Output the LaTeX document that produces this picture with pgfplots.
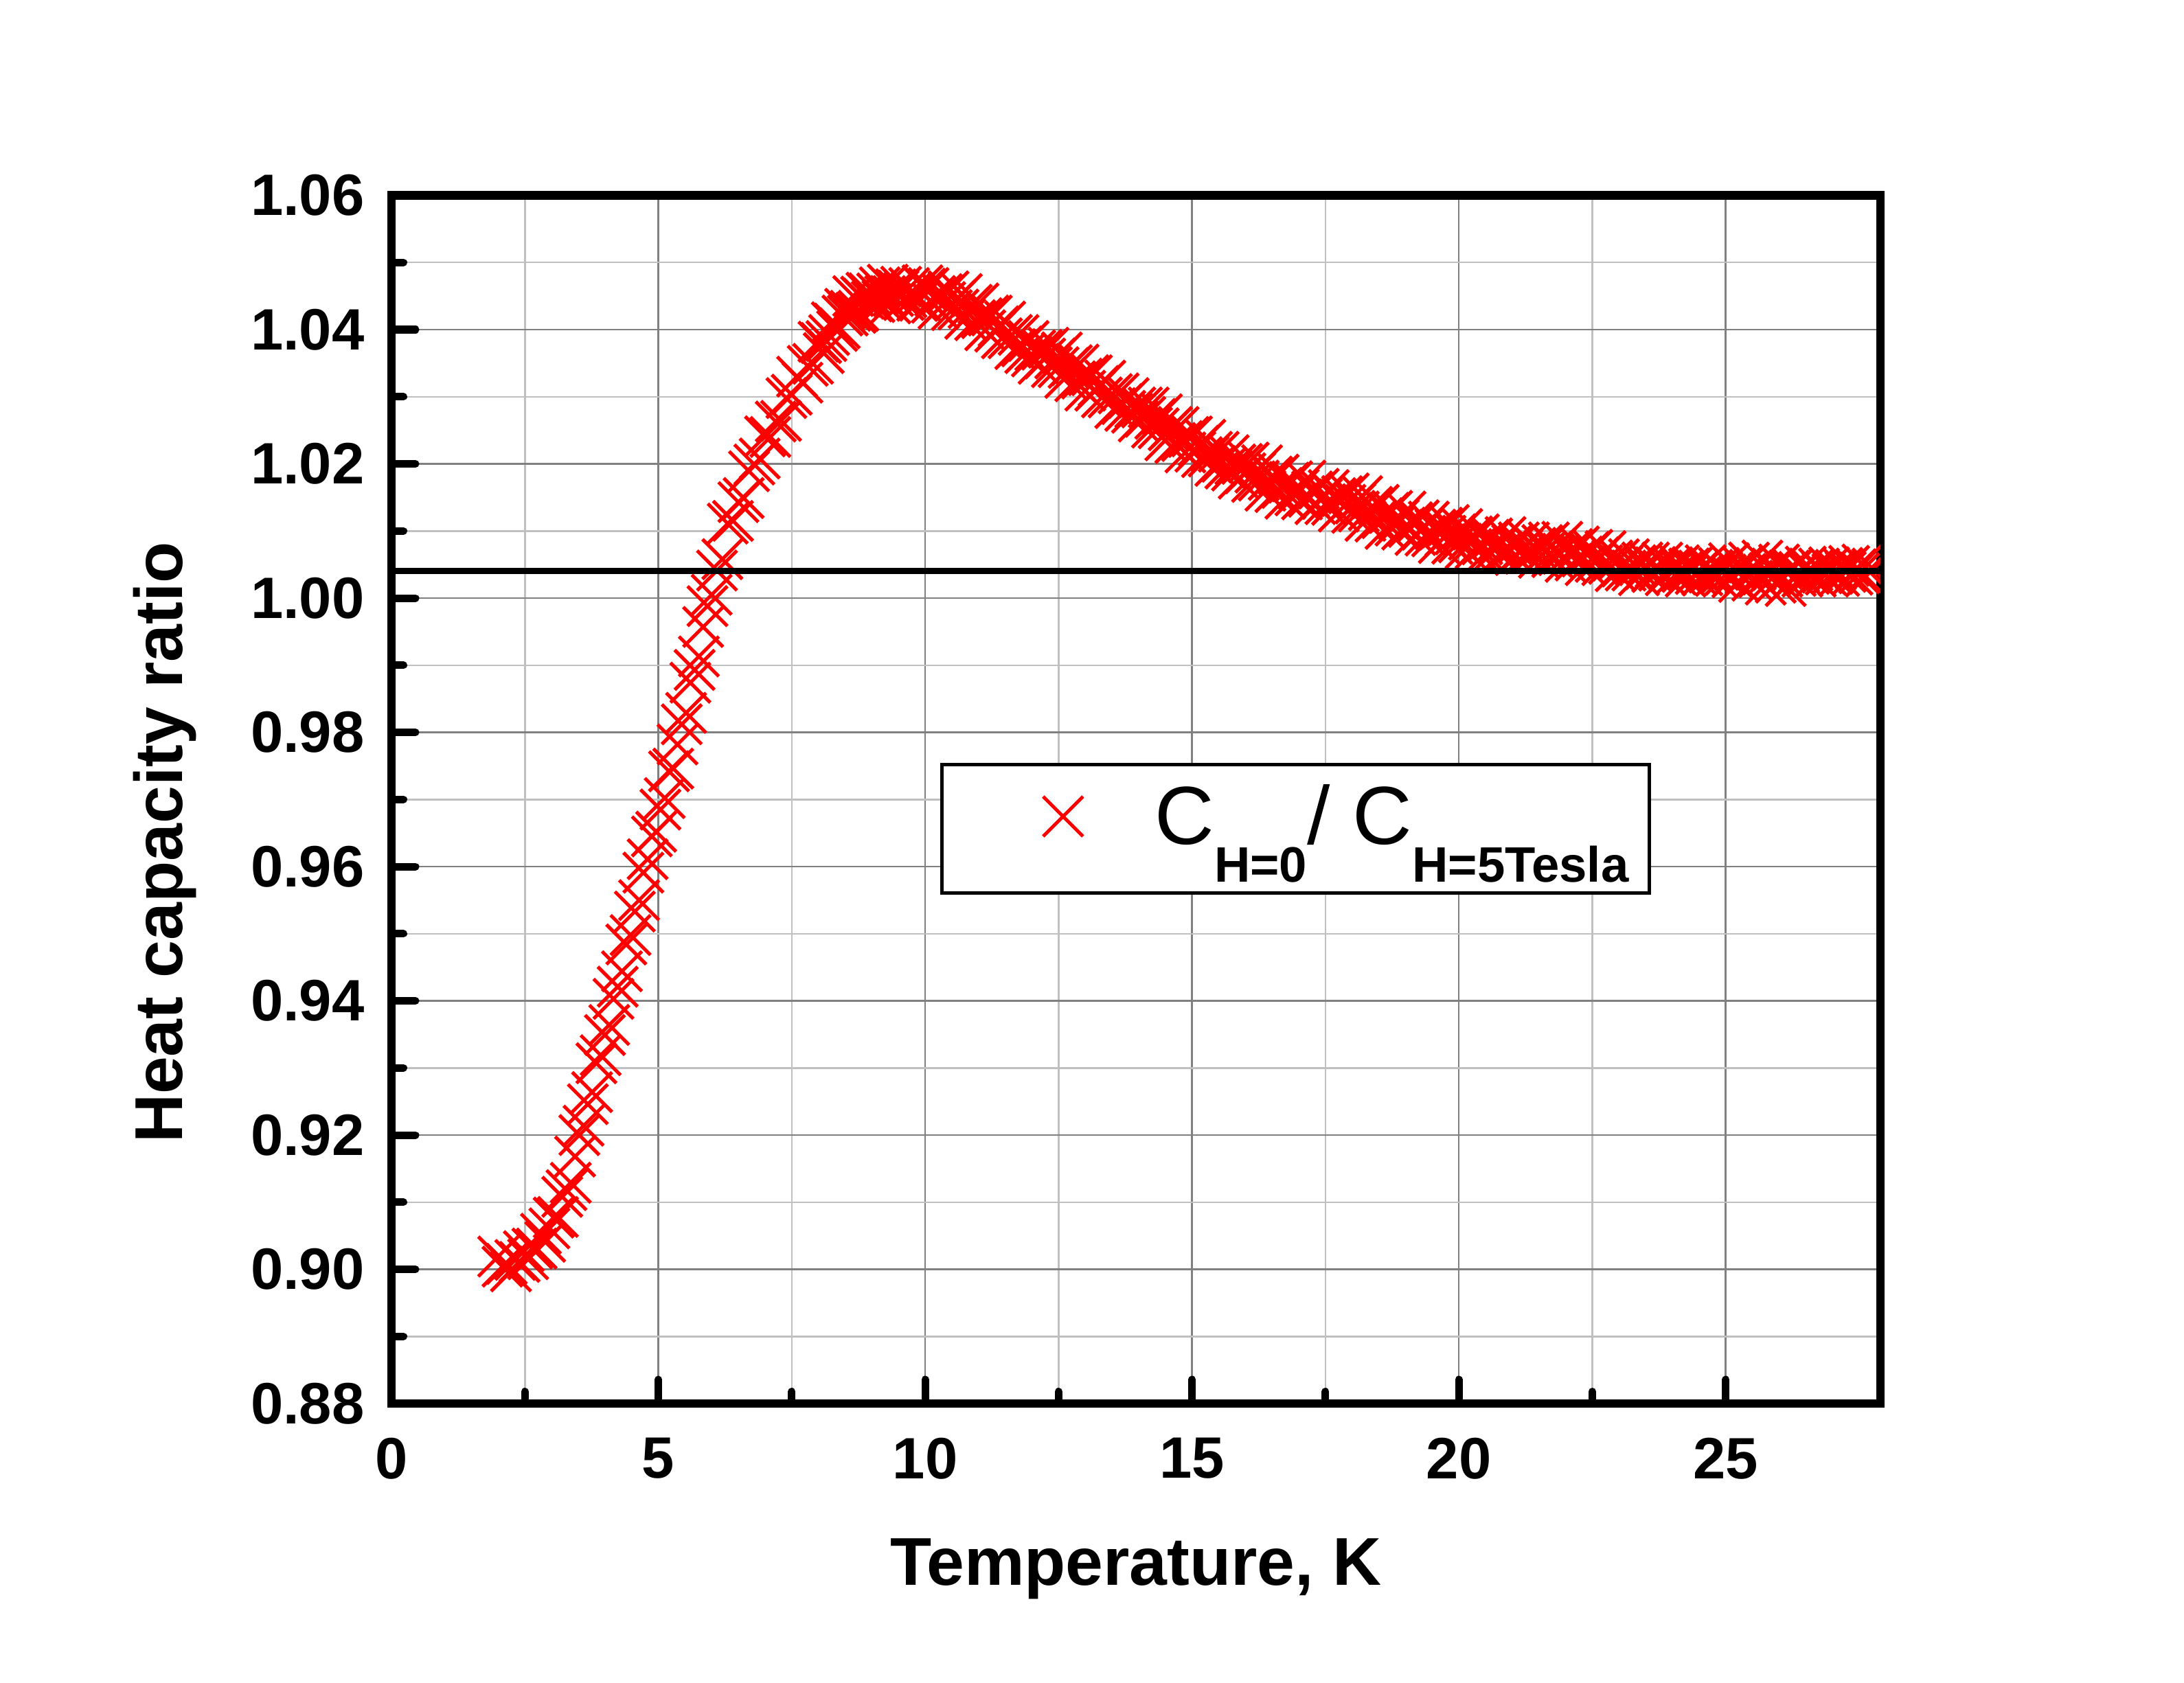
\documentclass[border=0pt]{standalone}
\usepackage{fontspec}
\setmainfont{Liberation Sans}
\usepackage{pgfplots}
\pgfplotsset{compat=1.18}
\definecolor{majgrid}{RGB}{128,128,128}
\definecolor{mingrid}{RGB}{192,192,192}
\begin{document}
\begin{tikzpicture}
\useasboundingbox (-114.0pt,-81.2pt) rectangle (522.0pt,408.8pt);
\begin{axis}[
  scale only axis, width=433.6pt, height=351.9pt,
  at={(0pt,0pt)}, anchor=south west,
  xmin=0, xmax=27.9, ymin=0.88, ymax=1.06,
  xtick={0,5,10,15,20,25},
  ytick={0.88,0.90,0.92,0.94,0.96,0.98,1.00,1.02,1.04,1.06},
  minor x tick num=1, minor y tick num=1,
  grid=both,
  major grid style={draw=majgrid, line width=0.5pt},
  minor grid style={draw=mingrid, line width=0.5pt},
  axis line style={line width=2.5pt, line cap=rect},
  tick align=inside, xtick pos=bottom, ytick pos=left,
  major tick length=7pt, minor tick length=3.5pt,
  tick style={black, line width=2.2pt, line cap=round},
  clip marker paths=true,
  /pgf/number format/assume math mode=true,
  tick label style={font=\fontsize{17}{17}\selectfont\bfseries},
  yticklabel style={/pgf/number format/.cd, fixed, fixed zerofill, precision=2, /tikz/.cd, anchor=east, inner sep=0pt, xshift=-7.7pt},
  xticklabel style={anchor=north, inner sep=0pt, yshift=-9.8pt},
  legend style={at={(0.3685,0.530)}, anchor=north west, draw=black, line width=1pt, fill=white,
    inner xsep=0pt, inner ysep=0pt, cells={anchor=base west},
    nodes={inner sep=0pt, text depth=0pt},
    font=\fontsize{24}{24}\selectfont},
  legend image code/.code={\path[draw=none, fill=none] (0pt,-14.2pt) rectangle (62pt,23.1pt);
    \draw[#1] plot coordinates {(35.3pt,8.1pt)};},
]
\addplot[only marks, mark=x, color=red, line width=1pt, mark size=8.2pt] coordinates {
(2.00,0.9019) (2.08,0.9004) (2.16,0.9008) (2.24,0.8997) (2.32,0.9014) (2.40,0.9011) (2.48,0.9027) (2.56,0.9015)
(2.64,0.9031) (2.72,0.9031) (2.80,0.9053) (2.88,0.9041) (2.96,0.9061) (3.04,0.9077) (3.12,0.9078) (3.20,0.9108)
(3.28,0.9118) (3.36,0.9129) (3.44,0.9168) (3.52,0.9200) (3.60,0.9214) (3.68,0.9246) (3.76,0.9264) (3.84,0.9307)
(3.92,0.9319) (4.00,0.9349) (4.08,0.9364) (4.16,0.9403) (4.24,0.9421) (4.32,0.9444) (4.40,0.9484) (4.48,0.9498)
(4.56,0.9533) (4.64,0.9550) (4.72,0.9591) (4.80,0.9611) (4.88,0.9645) (4.96,0.9652) (5.04,0.9685) (5.12,0.9702)
(5.20,0.9742) (5.28,0.9746) (5.36,0.9782) (5.44,0.9812) (5.52,0.9829) (5.60,0.9874) (5.68,0.9893) (5.76,0.9913)
(5.84,0.9957) (5.92,0.9988) (6.00,1.0005)
(6.10,1.0041) (6.20,1.0058) (6.30,1.0111) (6.40,1.0115) (6.50,1.0143) (6.60,1.0149) (6.70,1.0189) (6.80,1.0199)
(6.90,1.0208) (7.00,1.0241) (7.10,1.0240) (7.20,1.0263) (7.30,1.0264) (7.40,1.0298) (7.50,1.0303) (7.60,1.0330)
(7.70,1.0321) (7.80,1.0346) (7.90,1.0349) (8.00,1.0382) (8.05,1.0380) (8.10,1.0365) (8.15,1.0383) (8.20,1.0392)
(8.25,1.0411) (8.30,1.0409) (8.35,1.0398) (8.40,1.0402) (8.45,1.0421) (8.50,1.0431) (8.55,1.0421) (8.60,1.0428)
(8.65,1.0450) (8.70,1.0425) (8.75,1.0428) (8.80,1.0449) (8.85,1.0446) (8.90,1.0455) (8.95,1.0454) (9.00,1.0442)
(9.05,1.0441) (9.10,1.0454) (9.15,1.0463) (9.20,1.0443) (9.25,1.0450) (9.30,1.0467) (9.35,1.0439) (9.40,1.0450)
(9.45,1.0460) (9.50,1.0458) (9.55,1.0464) (9.60,1.0444) (9.65,1.0448) (9.70,1.0462) (9.75,1.0456) (9.80,1.0451)
(9.85,1.0443) (9.90,1.0444) (9.95,1.0466) (10.00,1.0461)
(10.0625,1.0462) (10.125,1.0440) (10.1875,1.0450) (10.25,1.0431) (10.3125,1.0453) (10.375,1.0441) (10.4375,1.0457) (10.5,1.0429)
(10.5625,1.0443) (10.625,1.0430) (10.6875,1.0453) (10.75,1.0416) (10.8125,1.0432) (10.875,1.0437) (10.9375,1.0414) (11.0,1.0439)
(11.0625,1.0417) (11.125,1.0399) (11.1875,1.0421) (11.25,1.0421) (11.3125,1.0397) (11.375,1.0405) (11.4375,1.0387) (11.5,1.0412)
(11.5625,1.0387) (11.625,1.0392) (11.6875,1.0371) (11.75,1.0392) (11.8125,1.0375) (11.875,1.0365) (11.9375,1.0383) (12.0,1.0360)
(12.0625,1.0369) (12.125,1.0349) (12.1875,1.0370) (12.25,1.0357) (12.3125,1.0373) (12.375,1.0344) (12.4375,1.0357) (12.5,1.0344)
(12.5625,1.0366) (12.625,1.0328) (12.6875,1.0343) (12.75,1.0347) (12.8125,1.0323) (12.875,1.0348) (12.9375,1.0327) (13.0,1.0309)
(13.0625,1.0332) (13.125,1.0332) (13.1875,1.0309) (13.25,1.0316) (13.3125,1.0299) (13.375,1.0324) (13.4375,1.0299) (13.5,1.0304)
(13.5625,1.0283) (13.625,1.0305) (13.6875,1.0289) (13.75,1.0279) (13.8125,1.0298) (13.875,1.0276) (13.9375,1.0284) (14.0,1.0263)
(14.0625,1.0284) (14.125,1.0270) (14.1875,1.0284) (14.25,1.0254) (14.3125,1.0267) (14.375,1.0253) (14.4375,1.0274) (14.5,1.0235)
(14.5625,1.0250) (14.625,1.0255) (14.6875,1.0231) (14.75,1.0255) (14.8125,1.0234) (14.875,1.0217) (14.9375,1.0240) (15.0,1.0241)
(15.0625,1.0218) (15.125,1.0227) (15.1875,1.0210) (15.25,1.0236) (15.3125,1.0211) (15.375,1.0218) (15.4375,1.0197) (15.5,1.0218)
(15.5625,1.0203) (15.625,1.0193) (15.6875,1.0213) (15.75,1.0190) (15.8125,1.0199) (15.875,1.0178) (15.9375,1.0200) (16.0,1.0186)
(16.0625,1.0202) (16.125,1.0173) (16.1875,1.0187) (16.25,1.0175) (16.3125,1.0198) (16.375,1.0160) (16.4375,1.0176) (16.5,1.0181)
(16.5625,1.0158) (16.625,1.0184) (16.6875,1.0164) (16.75,1.0148) (16.8125,1.0172) (16.875,1.0174) (16.9375,1.0153) (17.0,1.0162)
(17.0625,1.0147) (17.125,1.0175) (17.1875,1.0151) (17.25,1.0159) (17.3125,1.0140) (17.375,1.0163) (17.4375,1.0148) (17.5,1.0140)
(17.5625,1.0161) (17.625,1.0139) (17.6875,1.0149) (17.75,1.0129) (17.8125,1.0152) (17.875,1.0139) (17.9375,1.0156) (18.0,1.0127)
(18.0625,1.0141) (18.125,1.0129) (18.1875,1.0152) (18.25,1.0115) (18.3125,1.0131) (18.375,1.0136) (18.4375,1.0114) (18.5,1.0139)
(18.5625,1.0119) (18.625,1.0103) (18.6875,1.0127) (18.75,1.0130) (18.8125,1.0108) (18.875,1.0117) (18.9375,1.0102) (19.0,1.0129)
(19.0625,1.0106) (19.125,1.0113) (19.1875,1.0094) (19.25,1.0116) (19.3125,1.0102) (19.375,1.0093) (19.4375,1.0114) (19.5,1.0092)
(19.5625,1.0102) (19.625,1.0082) (19.6875,1.0105) (19.75,1.0093) (19.8125,1.0109) (19.875,1.0081) (19.9375,1.0095) (20.0,1.0083)
(20.0625,1.0103) (20.125,1.0074) (20.1875,1.0087) (20.25,1.0092) (20.3125,1.0074) (20.375,1.0095) (20.4375,1.0080) (20.5,1.0067)
(20.5625,1.0087) (20.625,1.0089) (20.6875,1.0073) (20.75,1.0081) (20.8125,1.0069) (20.875,1.0091) (20.9375,1.0073) (21.0,1.0079)
(21.0625,1.0064) (21.125,1.0083) (21.1875,1.0072) (21.25,1.0066) (21.3125,1.0083) (21.375,1.0067) (21.4375,1.0075) (21.5,1.0060)
(21.5625,1.0079) (21.625,1.0069) (21.6875,1.0083) (21.75,1.0061) (21.8125,1.0074) (21.875,1.0064) (21.9375,1.0084) (22.0,1.0054)
(22.0625,1.0068) (22.125,1.0073) (22.1875,1.0056) (22.25,1.0077) (22.3125,1.0062) (22.375,1.0049) (22.4375,1.0069) (22.5,1.0072)
(22.5625,1.0054) (22.625,1.0061) (22.6875,1.0049) (22.75,1.0070) (22.8125,1.0051) (22.875,1.0056) (22.9375,1.0040) (23.0,1.0058)
(23.0625,1.0047) (23.125,1.0041) (23.1875,1.0058) (23.25,1.0041) (23.3125,1.0049) (23.375,1.0034) (23.4375,1.0053) (23.5,1.0043)
(23.5625,1.0053) (23.625,1.0039) (23.6875,1.0046) (23.75,1.0041) (23.8125,1.0053) (23.875,1.0034) (23.9375,1.0043) (24.0,1.0046)
(24.0625,1.0035) (24.125,1.0049) (24.1875,1.0039) (24.25,1.0032) (24.3125,1.0044) (24.375,1.0046) (24.4375,1.0036) (24.5,1.0041)
(24.5625,1.0034) (24.625,1.0049) (24.6875,1.0038) (24.75,1.0042) (24.8125,1.0033) (24.875,1.0045) (24.9375,1.0039) (25.0,1.0035)
(25.0625,1.0052) (25.125,1.0031) (25.1875,1.0042) (25.25,1.0024) (25.3125,1.0047) (25.375,1.0036) (25.4375,1.0053) (25.5,1.0026)
(25.5625,1.0042) (25.625,1.0031) (25.6875,1.0056) (25.75,1.0020) (25.8125,1.0037) (25.875,1.0044) (25.9375,1.0023) (26.0,1.0050)
(26.0625,1.0032) (26.125,1.0018) (26.1875,1.0041) (26.25,1.0043) (26.3125,1.0033) (26.375,1.0039) (26.4375,1.0032) (26.5,1.0047)
(26.5625,1.0036) (26.625,1.0041) (26.6875,1.0032) (26.75,1.0044) (26.8125,1.0038) (26.875,1.0035) (26.9375,1.0046) (27.0,1.0036)
(27.0625,1.0042) (27.125,1.0033) (27.1875,1.0045) (27.25,1.0039) (27.3125,1.0048) (27.375,1.0035) (27.4375,1.0043) (27.5,1.0037)
(27.5625,1.0050) (27.625,1.0032) (27.6875,1.0041) (27.75,1.0044)
};
\addlegendentry{C\raisebox{-11pt}{\fontsize{14.5}{14.5}\selectfont\bfseries H=0}/ C\raisebox{-11pt}{\fontsize{14.5}{14.5}\selectfont\bfseries H=5Tesla}\rule{6pt}{0pt}}
\addplot[black, line width=1.8pt, forget plot] coordinates {(0,1.004) (27.9,1.004)};
\end{axis}
\node[rotate=90, anchor=base, inner sep=0pt, font=\fontsize{19.7}{19.7}\selectfont\bfseries] at (-60.9pt,163.4pt) {Heat capacity ratio};
\node[anchor=base, inner sep=0pt, font=\fontsize{19.7}{19.7}\selectfont\bfseries] at (216.8pt,-52.8pt) {Temperature, K};
\end{tikzpicture}
\end{document}
